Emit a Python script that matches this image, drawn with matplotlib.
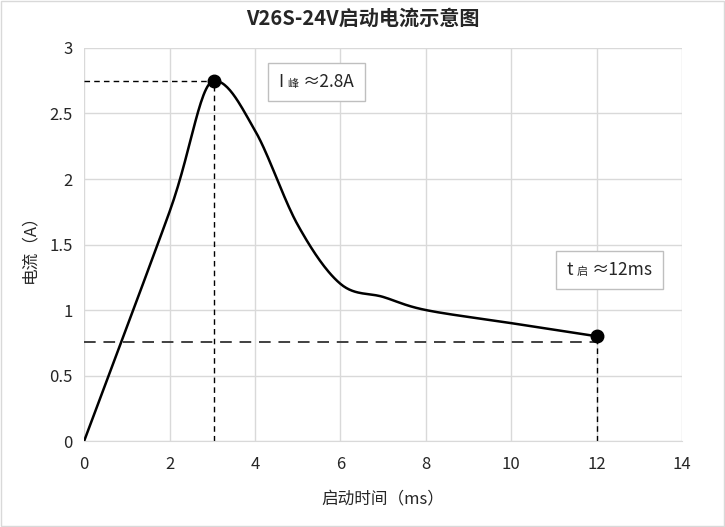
import matplotlib
matplotlib.use("Agg")
import matplotlib.pyplot as plt
import numpy as np
from matplotlib.offsetbox import TextArea, HPacker, AnnotationBbox

plt.rcParams['font.family'] = ['Noto Sans CJK SC', 'DejaVu Sans']

# datos
t_ms = [0, 2, 3.05, 4, 5, 6, 7, 8, 10, 12]
i_a = [0, 1.75, 2.75, 2.37, 1.65, 1.2, 1.1, 1.0, 0.9, 0.8]
pico_t, pico_i = 3.05, 2.75
fin_t, fin_i = 12, 0.8
linea_base = 0.76
xticks = [0, 2, 4, 6, 8, 10, 12, 14]
yticks = [0, 0.5, 1, 1.5, 2, 2.5, 3]
yticklabels = ['0', '0.5', '1', '1.5', '2', '2.5', '3']


def suavizar(x, y, n=30):
    """Catmull-Rom parecido a las lineas suavizadas de Excel (sin pasarse en los picos)."""
    x = np.array(x, float)
    y = np.array(y, float)
    m = len(x)
    tx = np.zeros(m)
    ty = np.zeros(m)
    for k in range(m):
        a = max(k - 1, 0)
        b = min(k + 1, m - 1)
        tx[k] = (x[b] - x[a]) / 2
        ty[k] = (y[b] - y[a]) / 2
        if 0 < k < m - 1 and (y[k] - y[k - 1]) * (y[k + 1] - y[k]) < 0:
            ty[k] = 0  # maximo local
    s = np.linspace(0, 1, n)
    xs, ys = [], []
    for k in range(m - 1):
        for p, t, out in ((x, tx, xs), (y, ty, ys)):
            c1 = p[k] + t[k] / 3
            c2 = p[k + 1] - t[k + 1] / 3
            out.extend((1 - s) ** 3 * p[k] + 3 * (1 - s) ** 2 * s * c1
                       + 3 * (1 - s) * s ** 2 * c2 + s ** 3 * p[k + 1])
    return np.array(xs), np.array(ys)


fig = plt.figure(figsize=(7.25, 5.27), dpi=100)
ax = fig.add_axes([0.116, 0.163, 0.825, 0.746])

xs, ys = suavizar(t_ms, i_a)
ax.plot(xs, ys, color='black', lw=1.8, zorder=3)
ax.plot([pico_t, fin_t], [pico_i, fin_i], 'o', color='black', ms=9, zorder=4)

# lineas guia
ax.plot([0, pico_t], [pico_i, pico_i], color='black', lw=1, ls=(0, (4, 3)), zorder=2)
ax.plot([pico_t, pico_t], [0, pico_i], color='black', lw=1, ls=(0, (4, 3)), zorder=2)
ax.plot([0, fin_t], [linea_base, linea_base], color='#404040', lw=1.4, ls=(0, (6, 4)), zorder=2)
ax.plot([fin_t, fin_t], [0, fin_i], color='black', lw=1, ls=(0, (4, 3)), zorder=2)

ax.set_xlim(0, 14)
ax.set_ylim(0, 3)
ax.set_xticks(xticks)
ax.set_yticks(yticks)
ax.set_yticklabels(yticklabels)
ax.grid(True, color='#d9d9d9', lw=1)
ax.set_axisbelow(True)
for lado in ['top', 'right', 'left']:
    ax.spines[lado].set_visible(False)
ax.spines['bottom'].set_color('#d9d9d9')
ax.tick_params(length=0, labelsize=12, colors='#262626', pad=11)
ax.tick_params(axis='y', pad=8)

ax.set_xlabel('启动时间（ms）', fontsize=12, color='#262626', labelpad=12)
ax.set_ylabel('电流（A）', fontsize=12, color='#262626', labelpad=8)
fig.suptitle('V26S-24V启动电流示意图', fontsize=14.5, fontweight='bold',
             color='#262626', y=0.985)


def etiqueta(partes, xy):
    areas = [TextArea(t, textprops=dict(fontsize=fs, color='#262626')) for t, fs in partes]
    caja = HPacker(children=areas, align='baseline', pad=0, sep=3)
    ab = AnnotationBbox(caja, xy, xycoords='data', frameon=True, pad=0.75,
                        bboxprops=dict(edgecolor='#bfbfbf', facecolor='white', lw=1))
    ax.add_artist(ab)


etiqueta([('I', 12.5), ('峰', 8), ('≈2.8A', 12.5)], (5.43, 2.74))
etiqueta([('t', 12.5), ('启', 8), ('≈12ms', 12.5)], (12.3, 1.305))

# borde del area del grafico
fig.patches.append(plt.Rectangle((0.002, 0.002), 0.996, 0.996, transform=fig.transFigure,
                                 fill=False, edgecolor='#d9d9d9', lw=1))

plt.savefig('out.png', dpi=100)
